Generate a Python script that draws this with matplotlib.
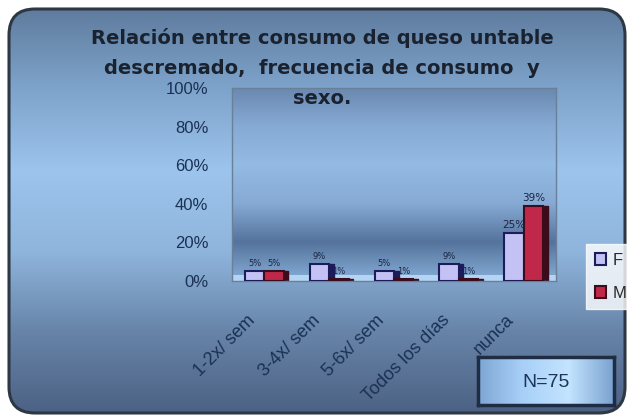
import numpy as np
import matplotlib
matplotlib.use("Agg")
import matplotlib.pyplot as plt
from matplotlib.patches import FancyBboxPatch, Rectangle
from matplotlib.colors import LinearSegmentedColormap
import matplotlib.transforms as mtransforms

categorias = ["1-2x/ sem", "3-4x/ sem", "5-6x/ sem", "Todos los días", "nunca"]
femenino = [5, 9, 5, 9, 25]
masculino = [5, 1, 1, 1, 39]
series = ["F", "M"]
titulo = ["Relación entre consumo de queso untable",
          "descremado,  frecuencia de consumo  y",
          "sexo."]

COL_F = "#c4c2f4"
COL_F_EDGE = "#1c1c5a"
COL_M = "#c0284a"
COL_M_EDGE = "#3a0c1c"
COL_TXT = "#1a3154"

W, H = 627, 416
fig = plt.figure(figsize=(W / 100, H / 100), dpi=100)
fig.patch.set_facecolor("white")

# fondo redondeado con degradado vertical
bg = fig.add_axes([0, 0, 1, 1])
bg.set_xlim(0, W)
bg.set_ylim(H, 0)
bg.axis("off")
bg_cmap = LinearSegmentedColormap.from_list(
    "bg", ["#5f7c9e", "#7fa4cc", "#9cc4ec", "#8fb5dc", "#6784a8", "#4c6284"])
grad = np.linspace(0, 1, 256).reshape(-1, 1)
marco = FancyBboxPatch((9, 9), 616, 404, boxstyle="round,pad=0,rounding_size=26",
                       facecolor="none", edgecolor="#2e3844", linewidth=2.2, zorder=3)
bg.add_patch(marco)
img = bg.imshow(grad, cmap=bg_cmap, extent=(0, W, 413, 9), aspect="auto", zorder=1)
img.set_clip_path(marco)

# área del gráfico
ax = fig.add_axes([232 / W, 1 - 281 / H, 324 / W, 193 / H])
ax.set_xlim(-0.5, len(categorias) - 0.5)
ax.set_ylim(0, 100)
wall_cmap = LinearSegmentedColormap.from_list(
    "wall", ["#6a88b0", "#86aad4", "#94bbe4", "#86aad4", "#55739c", "#86aed8"])
ax.imshow(grad, cmap=wall_cmap, extent=(-0.5, len(categorias) - 0.5, 0, 100),
          aspect="auto", zorder=0)
ax.add_patch(Rectangle((0, 0), 1, 0.03, transform=ax.transAxes,
                       facecolor="#b4d4f4", edgecolor="none", zorder=1))
for s in ax.spines.values():
    s.set_color("#6a7f98")
    s.set_linewidth(1)

x = np.arange(len(categorias))
w = 0.3
d = 0.07
for vals, off, col, edge in [(femenino, -w / 2, COL_F, COL_F_EDGE),
                             (masculino, w / 2, COL_M, COL_M_EDGE)]:
    # cara lateral para dar profundidad
    ax.bar(x + off + d, vals, w, color=edge, edgecolor=edge, zorder=2)
    ax.bar(x + off, vals, w, color=col, edgecolor=edge, linewidth=1.5, zorder=3)
    for xi, v in zip(x + off, vals):
        ax.text(xi, v + 1.5, f"{v}%", ha="center", va="bottom",
                fontsize=7.5 if v > 20 else 6, color="#1a2440", zorder=4)

ax.set_yticks(np.arange(0, 101, 20))
ax.set_yticklabels([f"{t}%" for t in range(0, 101, 20)],
                   fontsize=12, color=COL_TXT, family="Liberation Sans")
ax.tick_params(axis="y", length=0, pad=17)
ax.set_xticks(x)
ax.set_xticklabels(categorias, rotation=45, ha="right", rotation_mode="anchor",
                   fontsize=13, color=COL_TXT, family="Liberation Sans")
ax.tick_params(axis="x", length=0, pad=22)
offset = mtransforms.ScaledTranslation(-18 / 100, 0, fig.dpi_scale_trans)
for lab in ax.get_xticklabels():
    lab.set_transform(lab.get_transform() + offset)

# título, una línea por texto
for i, linea in enumerate(titulo):
    fig.text(322 / W, 1 - (38 + 30 * i) / H, linea, ha="center", va="center",
             fontsize=14, fontweight="bold", color="#1a2230")

# leyenda
leg = fig.legend(handles=[Rectangle((0, 0), 1, 1, facecolor=COL_F, edgecolor=COL_F_EDGE, lw=1.5),
                          Rectangle((0, 0), 1, 1, facecolor=COL_M, edgecolor=COL_M_EDGE, lw=1.5)],
                 labels=series, loc="upper left", bbox_to_anchor=(578 / W, 1 - 236 / H),
                 frameon=True, fancybox=False, handlelength=0.7,
                 handleheight=0.7, handletextpad=0.4, labelspacing=1.1,
                 borderpad=0.5, prop={"family": "Liberation Sans", "size": 12})
leg.get_frame().set_facecolor("white")
leg.get_frame().set_edgecolor("white")
for t in leg.get_texts():
    t.set_color("#2a2a2a")

# recuadro N
nbox = fig.add_axes([478 / W, 1 - 405 / H, 136 / W, 48 / H])
nbox.set_xlim(0, 1)
nbox.set_ylim(0, 1)
nbox.set_xticks([])
nbox.set_yticks([])
ncmap = LinearSegmentedColormap.from_list("n", ["#7ea6d4", "#a8d0f8", "#c4e4ff", "#7aa2d0"])
nbox.imshow(np.linspace(0, 1, 256).reshape(1, -1), cmap=ncmap,
            extent=(0, 1, 0, 1), aspect="auto")
for s in nbox.spines.values():
    s.set_color("#1e2c44")
    s.set_linewidth(2.5)
nbox.text(0.5, 0.47, "N=75", ha="center", va="center", fontsize=14,
          color="#1d3558", family="Liberation Sans")

fig.savefig("out.png", dpi=100)
